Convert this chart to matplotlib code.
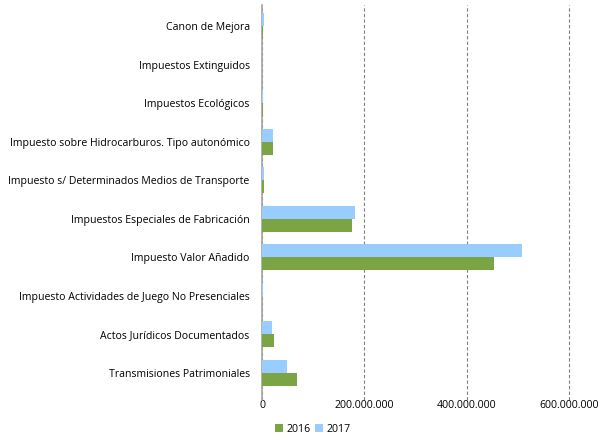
import numpy as np
import matplotlib
matplotlib.use("Agg")
import matplotlib.pyplot as plt
from matplotlib.ticker import FuncFormatter

categorias = ["Transmisiones Patrimoniales", "Actos Jurídicos Documentados",
              "Impuesto Actividades de Juego No Presenciales", "Impuesto Valor Añadido",
              "Impuestos Especiales de Fabricación",
              "Impuesto s/ Determinados Medios de Transporte",
              "Impuesto sobre Hidrocarburos. Tipo autonómico",
              "Impuestos Ecológicos", "Impuestos Extinguidos", "Canon de Mejora"]
v2016 = [68e6, 23e6, 0.3e6, 453e6, 175e6, 4.5e6, 21e6, 2e6, 0.2e6, 2e6]
v2017 = [48e6, 20e6, 1e6, 509e6, 181e6, 4e6, 21e6, 1.5e6, 0.2e6, 4e6]
ticks = [0, 200e6, 400e6, 600e6]

plt.rcParams['font.family'] = ['Open Sans', 'DejaVu Sans']

fig = plt.figure(figsize=(6, 4.4), dpi=100)
ax = fig.add_axes([0.437, 0.0909, 0.511, 0.8977])

y = np.arange(len(categorias))
h = 0.34
ax.barh(y - h/2, v2016, height=h, color='#7BA444', label='2016', zorder=3)
ax.barh(y + h/2, v2017, height=h, color='#99CCFF', label='2017', zorder=3)

ax.set_xlim(0, 600e6)
ax.set_ylim(-0.71, len(categorias) - 0.45)
ax.set_yticks(y)
ax.set_yticklabels(categorias, fontsize=7.6)
ax.set_xticks(ticks)
ax.xaxis.set_major_formatter(FuncFormatter(lambda v, p: "0" if v == 0 else f"{int(v):,}".replace(",", ".")))
ax.tick_params(axis='x', labelsize=7.6, length=0, pad=0)
ax.tick_params(axis='y', length=0, pad=9)
ax.grid(axis='x', color='#808080', linestyle=(0, (3, 2)), linewidth=0.8, zorder=0)
for gl in ax.get_xgridlines():
    gl.set_clip_on(False)
for s in ['top', 'right', 'bottom']:
    ax.spines[s].set_visible(False)
ax.spines['left'].set_color('#A6A6A6')
ax.spines['left'].set_linewidth(1.2)
ax.spines['left'].set_zorder(2)

fig.legend(loc='center', bbox_to_anchor=(0.522, 0.025), ncol=2, frameon=False,
           fontsize=7.6, handlelength=0.7, handleheight=0.7, handletextpad=0.4,
           columnspacing=0.4)

fig.savefig("out.png", dpi=100)
